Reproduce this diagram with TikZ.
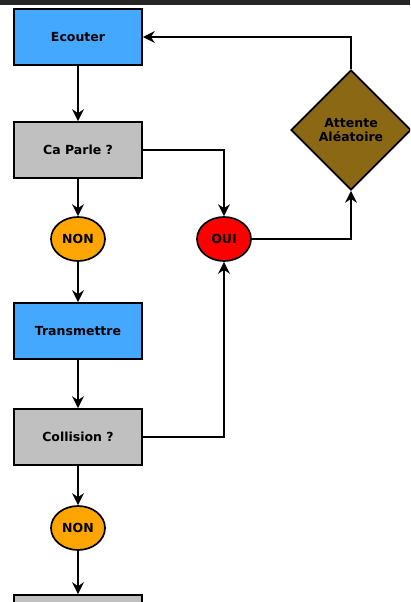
\documentclass[tikz,border=0pt]{standalone}
\usepackage{fontspec}
\setmainfont{DejaVu Sans}
\usetikzlibrary{positioning, shapes.geometric, arrows.meta}

\definecolor{bleu}{HTML}{44A8FF}
\definecolor{gris}{HTML}{C0C0C0}
\definecolor{orangeNon}{HTML}{FFA500}
\definecolor{rougeOui}{HTML}{FF0000}
\definecolor{brun}{HTML}{8B6914}
\definecolor{barre}{HTML}{262626}

\begin{document}
\begin{tikzpicture}[x=1pt, y=-1pt, node distance=2cm, on grid, line width=1.7pt,
    >={Stealth[length=12pt, width=12pt, inset=4pt]},
    txt/.style={font=\bfseries\fontsize{12.5}{14}\selectfont},
    bloc/.style={txt, rectangle, draw, minimum width=128pt, minimum height=56pt},
    rep/.style={txt, ellipse, draw, minimum width=54pt, minimum height=44pt, inner sep=0pt},
    attente/.style={txt, diamond, draw, fill=brun, aspect=1, minimum size=120pt, inner sep=0pt, align=center}]
    \useasboundingbox (0,0) rectangle (410,602);
    \clip (0,0) rectangle (410,602);
    \fill[barre] (0,0) rectangle (410,5);

    \node[bloc, fill=bleu] (ecouter) at (78,37) {Ecouter};
    \node[bloc, fill=gris] (parle) [below=113pt of ecouter] {Ca Parle ?};
    \node[rep, fill=orangeNon] (non1) [below=89pt of parle] {NON};
    \node[bloc, fill=bleu] (transmettre) [below=92pt of non1] {Transmettre};
    \node[bloc, fill=gris] (collision) [below=106pt of transmettre] {Collision ?};
    \node[rep, fill=orangeNon] (non2) [below=91pt of collision] {NON};
    \node[bloc, fill=gris] (suite) [below=95pt of non2] {};
    \node[rep, fill=rougeOui] (oui) [right=146pt of non1] {OUI};
    \node[attente] (alea) [above right=109pt and 127pt of oui] {Attente\\Aléatoire};

    \path[->]
    (ecouter) edge (parle)
    (parle) edge (non1)
    (non1) edge (transmettre)
    (transmettre) edge (collision)
    (collision) edge (non2)
    (non2) edge (suite);

    \draw[->] (parle.east) -| (oui);
    \draw[->] (collision.east) -| (oui);
    \draw[->] (oui.east) -| (alea.south);
    \draw[->] (alea.north) |- (ecouter.east);
\end{tikzpicture}
\end{document}
